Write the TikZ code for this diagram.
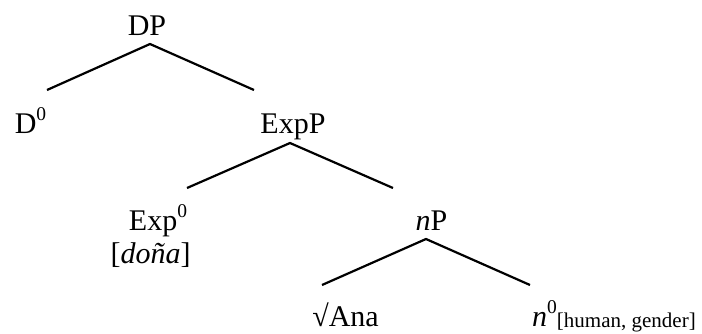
\documentclass[tikz,border=0pt]{standalone}
\usepackage{fontspec}
\setmainfont{Liberation Serif}
\newcommand{\supzero}{\raisebox{13pt}{\fontsize{19.5}{22}\selectfont 0}}
\newcommand{\subfeat}[1]{\raisebox{-1.5pt}{\fontsize{21}{24}\selectfont #1}}
\begin{document}
\begin{tikzpicture}[x=1pt,y=-1pt,
  lab/.style={inner sep=0pt, anchor=base, font=\fontsize{30}{36}\selectfont},
  branch/.style={line width=2.2pt}]
\useasboundingbox (0,0) rectangle (702,333);
% labels
\node[lab] (DP) at (147,35) {DP};
\node[lab] (D0) at (30.5,133) {D\supzero};
\node[lab] (ExpP) at (293,133) {ExpP};
\node[lab] (Exp0) at (158,230) {Exp\supzero};
\node[lab] (dona) at (150.5,263) {[\textit{doña}]};
\node[lab] (nP) at (431.5,230) {\textit{n}P};
\node[lab] (Ana) at (345.5,326) {√Ana};
\node[lab] (n0) at (614,326) {\textit{n}\supzero\subfeat{[human, gender]}};
% branch points
\coordinate (DP-b) at (150,44);
\coordinate (D0-t) at (47,90);
\coordinate (ExpP-t) at (254,90);
\coordinate (ExpP-b) at (290,143);
\coordinate (Exp0-t) at (187,188);
\coordinate (nP-t) at (393,188);
\coordinate (nP-b) at (426,239);
\coordinate (Ana-t) at (322,285);
\coordinate (n0-t) at (530,285);
% branches
\draw[branch] (D0-t) -- (DP-b) -- (ExpP-t);
\draw[branch] (Exp0-t) -- (ExpP-b) -- (nP-t);
\draw[branch] (Ana-t) -- (nP-b) -- (n0-t);
\end{tikzpicture}
\end{document}
